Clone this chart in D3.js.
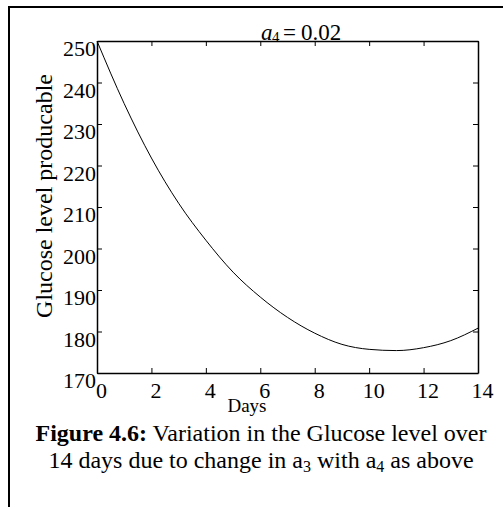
<!DOCTYPE html>
<html>
<head>
<meta charset="utf-8">
<script src="https://cdn.jsdelivr.net/npm/d3@7"></script>
<style>
  body { margin: 0; background: #fff; }
  svg { display: block; font-family: "Liberation Serif", "Times New Roman", serif; }
</style>
</head>
<body>
<div id="chart"></div>
<script>
// glucose level, one value per day
var days = [0, 1, 2, 3, 4, 5, 6, 7, 8, 9, 10, 11, 12, 13, 14];
var glucose = [250, 234.9, 221.8, 210.9, 202.0, 194.3, 188.3, 183.4, 179.6, 176.9, 175.7, 175.4, 176.1, 177.8, 180.8];
var xTicks = [0, 2, 4, 6, 8, 10, 12, 14];
var yTicks = [170, 180, 190, 200, 210, 220, 230, 240, 250];

var svgWidth = 503;
var svgHeight = 507;

var margin = { top: 41, right: 25, bottom: 134, left: 97 };
var width = svgWidth - margin.left - margin.right;
var height = svgHeight - margin.top - margin.bottom;

var svg = d3.select("#chart")
  .append("svg")
  .attr("width", svgWidth)
  .attr("height", svgHeight);

// outer frame (only top and left edges show)
svg.append("path")
  .attr("d", "M9,507 L9,7 L503,7")
  .attr("fill", "none")
  .attr("stroke", "#000")
  .attr("stroke-width", 2);

var chartGroup = svg.append("g")
  .attr("transform", `translate(${margin.left}, ${margin.top})`);

var x = d3.scaleLinear().domain([0, 14]).range([0, width]);
var y = d3.scaleLinear().domain([170, 250]).range([height, 0]);

var data = days.map((d, i) => ({ day: d, value: glucose[i] }));

// axes, ticks pointing inward
var bottomAxis = d3.axisBottom(x).tickValues(xTicks).tickSize(-5).tickSizeOuter(0).tickPadding(9);
var leftAxis = d3.axisLeft(y).tickValues(yTicks).tickSize(-5).tickSizeOuter(0).tickPadding(1);
var topAxis = d3.axisTop(x).tickValues(xTicks).tickSize(-5).tickSizeOuter(0).tickFormat("");
var rightAxis = d3.axisRight(y).tickValues(yTicks).tickSize(-5).tickSizeOuter(0).tickFormat("");

var gx = chartGroup.append("g")
  .attr("transform", `translate(0, ${height})`)
  .call(bottomAxis);
gx.selectAll("text").attr("dx", 4);

var gy = chartGroup.append("g").call(leftAxis);
gy.selectAll("text").attr("dy", "0.66em");

chartGroup.append("g").call(topAxis);
chartGroup.append("g").attr("transform", `translate(${width}, 0)`).call(rightAxis);

chartGroup.selectAll(".tick text")
  .attr("font-family", "Liberation Serif, serif")
  .attr("font-size", 22)
  .attr("fill", "#000");
chartGroup.selectAll(".domain").attr("stroke", "#000").attr("stroke-width", 1.5);
chartGroup.selectAll(".tick line").attr("stroke", "#000");

// curve
var line = d3.line()
  .x(d => x(d.day))
  .y(d => y(d.value))
  .curve(d3.curveMonotoneX);

chartGroup.append("path")
  .datum(data)
  .attr("d", line)
  .attr("fill", "none")
  .attr("stroke", "#000")
  .attr("stroke-width", 1);

// title a4 = 0.02
var title = svg.append("text")
  .attr("y", 39.5)
  .attr("font-size", 23);
title.append("tspan").attr("x", 261).attr("font-style", "italic").text("a");
title.append("tspan").attr("x", 272).attr("font-size", 15).attr("dy", 2.5).text("4");
title.append("tspan").attr("x", 283).attr("dy", -2.5).text("=");
title.append("tspan").attr("x", 301).text("0.02");

// axis labels
svg.append("text")
  .attr("transform", "rotate(-90)")
  .attr("x", -196)
  .attr("y", 52)
  .attr("text-anchor", "middle")
  .attr("font-size", 24)
  .text("Glucose level producable");

svg.append("text")
  .attr("x", 247)
  .attr("y", 412)
  .attr("text-anchor", "middle")
  .attr("font-size", 19)
  .text("Days");

// caption
var cap1 = svg.append("text")
  .attr("x", 261)
  .attr("y", 441)
  .attr("text-anchor", "middle")
  .attr("font-size", 24);
cap1.append("tspan").attr("font-weight", "bold").text("Figure 4.6:");
cap1.append("tspan").text(" Variation in the Glucose level over");

var cap2 = svg.append("text")
  .attr("x", 261)
  .attr("y", 468)
  .attr("text-anchor", "middle")
  .attr("font-size", 24);
cap2.append("tspan").text("14 days due to change in a");
cap2.append("tspan").attr("font-size", 16).attr("dy", 4).text("3");
cap2.append("tspan").attr("dy", -4).text(" with a");
cap2.append("tspan").attr("font-size", 16).attr("dy", 4).text("4");
cap2.append("tspan").attr("dy", -4).text(" as above");
</script>
</body>
</html>
